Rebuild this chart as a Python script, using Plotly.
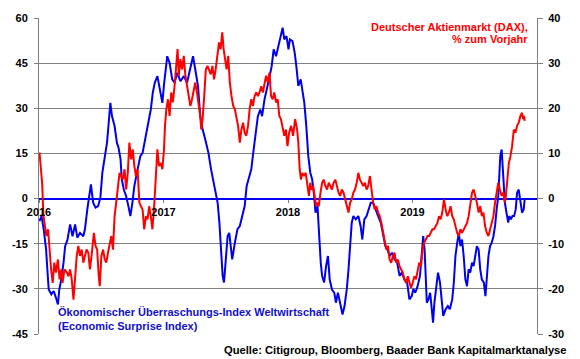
import plotly.graph_objects as go

# Citi Economic Surprise Index (left axis), decimal years
esi_t = [2016.004, 2016.020, 2016.038, 2016.057, 2016.067, 2016.078, 2016.099, 2016.118, 2016.136, 2016.152,
         2016.163, 2016.179, 2016.197, 2016.210, 2016.229, 2016.250, 2016.269, 2016.290, 2016.308, 2016.329,
         2016.356, 2016.369, 2016.388, 2016.403, 2016.417, 2016.435, 2016.454, 2016.475, 2016.493, 2016.509,
         2016.528, 2016.546, 2016.560, 2016.573, 2016.586, 2016.607, 2016.626, 2016.639, 2016.655, 2016.665,
         2016.681, 2016.700, 2016.718, 2016.734, 2016.750, 2016.766, 2016.792, 2016.814, 2016.832, 2016.858,
         2016.880, 2016.898, 2016.914, 2016.930, 2016.951, 2016.972, 2016.991, 2017.004,
         2017.030, 2017.049, 2017.070, 2017.089, 2017.110, 2017.136, 2017.163, 2017.189, 2017.216, 2017.237,
         2017.255, 2017.277, 2017.295, 2017.314, 2017.335, 2017.361, 2017.382, 2017.401, 2017.419, 2017.435,
         2017.449, 2017.462, 2017.475, 2017.486, 2017.499, 2017.515, 2017.528, 2017.541, 2017.552, 2017.573,
         2017.594, 2017.613, 2017.631, 2017.652, 2017.668, 2017.684, 2017.705, 2017.724, 2017.740, 2017.758,
         2017.777, 2017.792, 2017.811, 2017.832, 2017.853, 2017.869, 2017.885, 2017.904, 2017.922, 2017.943,
         2017.957, 2017.970, 2017.988, 2018.004,
         2018.015, 2018.036, 2018.054, 2018.067, 2018.083, 2018.102, 2018.115, 2018.131, 2018.147, 2018.163,
         2018.179, 2018.194, 2018.210, 2018.221, 2018.237, 2018.253, 2018.263, 2018.274, 2018.290, 2018.306,
         2018.321, 2018.335, 2018.353, 2018.372, 2018.385, 2018.401, 2018.419, 2018.438, 2018.454, 2018.472,
         2018.486, 2018.499, 2018.512, 2018.525, 2018.544, 2018.565, 2018.583, 2018.597, 2018.613, 2018.631,
         2018.650, 2018.665, 2018.684, 2018.702, 2018.724, 2018.745, 2018.763, 2018.782, 2018.798, 2018.816,
         2018.835, 2018.856, 2018.877, 2018.896, 2018.914, 2018.935, 2018.957, 2018.975, 2018.994,
         2019.007, 2019.022, 2019.041, 2019.060, 2019.075, 2019.086, 2019.097, 2019.107, 2019.115, 2019.128,
         2019.142, 2019.155, 2019.165, 2019.176, 2019.192, 2019.205, 2019.221, 2019.234, 2019.247, 2019.266,
         2019.284, 2019.300, 2019.319, 2019.332, 2019.345, 2019.359, 2019.372, 2019.385, 2019.398, 2019.411,
         2019.425, 2019.438, 2019.451, 2019.464, 2019.478, 2019.491, 2019.504, 2019.517, 2019.531, 2019.544,
         2019.557, 2019.573, 2019.586, 2019.599, 2019.610, 2019.623, 2019.636, 2019.650, 2019.663, 2019.676,
         2019.689, 2019.697, 2019.705, 2019.716, 2019.724, 2019.732, 2019.742, 2019.755, 2019.769, 2019.777,
         2019.790, 2019.803, 2019.816, 2019.829, 2019.840, 2019.853, 2019.867, 2019.880, 2019.893, 2019.901]
esi_v = [-7.5, -5.8, -10.2, -16.9, -23.5, -30.2, -31.8, -30.7, -32.9, -35.2,
         -30.2, -26.9, -21.3, -15.8, -13.6, -8.6, -12.5, -8.6, -13.0, -11.4,
         -12.5, -10.2, -3.6, 0.8, 4.7, -1.4, -3.0, -2.5, 0.3, 8.6,
         14.1, 18.5, 25.2, 31.8, 27.4, 24.1, 18.5, 16.9, 13.0, 6.4,
         3.0, 0.8, -2.5, -5.8, -1.4, 4.2, 9.7, 14.1, 15.2, 20.8,
         25.2, 29.6, 35.2, 38.5, 40.7, 36.3, 31.8, 37.9,
         47.3, 45.1, 39.6, 38.5, 41.8, 39.0, 40.7, 38.5, 42.9, 47.3,
         42.9, 37.4, 27.4, 23.0, 19.7, 15.2, 9.7, 5.3, 1.9, -1.4,
         -8.0, -16.9, -25.7, -27.9, -21.3, -12.5, -11.4, -15.8, -20.2, -14.7,
         -10.2, -9.1, -5.8, -2.5, 4.2, 6.4, 9.7, 16.3, 21.9, 27.4,
         29.6, 27.4, 32.9, 37.4, 40.7, 44.0, 49.6, 47.3, 50.7, 54.0,
         56.8, 52.9, 54.0, 49.6,
         52.9, 52.3, 48.4, 44.0, 37.4, 39.6, 35.2, 31.8, 24.1, 14.1,
         8.6, 6.4, 0.8, -4.7, -2.5, -14.7, -21.3, -25.7, -27.9, -22.4,
         -19.1, -26.9, -30.2, -31.3, -34.6, -31.3, -34.6, -38.5, -35.7, -30.2,
         -23.5, -15.8, -8.0, -5.8, -6.9, -5.8, -9.1, -13.6, -6.9, -5.8,
         -3.6, -1.4, -1.4, -3.6, -5.8, -8.0, -11.4, -15.8, -16.9, -19.1,
         -18.0, -20.2, -21.3, -25.7, -24.6, -26.9, -27.9, -33.5, -32.4,
         -30.0, -31.3, -29.1, -25.7, -19.1, -12.5, -16.9, -26.9, -34.6, -33.5,
         -31.3, -36.8, -41.2, -34.6, -29.1, -24.6, -27.9, -34.6, -39.0, -36.8,
         -35.7, -36.8, -33.5, -27.9, -19.1, -14.7, -11.4, -15.8, -13.6, -19.1,
         -26.9, -29.1, -23.5, -24.6, -21.3, -22.4, -19.1, -15.8, -16.9, -23.5,
         -26.9, -27.9, -32.4, -23.5, -19.1, -15.8, -14.7, -12.5, -9.1, -3.6,
         0.8, 7.5, 14.1, 16.3, 10.8, 3.0, -1.4, -4.7, -8.0, -5.8,
         -6.9, -5.8, -5.8, -3.6, 1.9, 3.0, -1.4, -4.7, -3.6, -0.3]

# DAX, % year on year (right axis), decimal years
dax_t = [2016.004, 2016.012, 2016.025, 2016.036, 2016.046, 2016.060, 2016.073, 2016.083, 2016.097, 2016.110,
         2016.123, 2016.136, 2016.152, 2016.165, 2016.179, 2016.189, 2016.205, 2016.224, 2016.237, 2016.250,
         2016.263, 2016.277, 2016.290, 2016.303, 2016.316, 2016.329, 2016.343, 2016.356, 2016.369, 2016.382,
         2016.396, 2016.409, 2016.422, 2016.441, 2016.454, 2016.467, 2016.480, 2016.488, 2016.501, 2016.515,
         2016.528, 2016.541, 2016.554, 2016.568, 2016.581, 2016.594, 2016.607, 2016.620, 2016.634, 2016.647,
         2016.660, 2016.673, 2016.687, 2016.700, 2016.713, 2016.726, 2016.740, 2016.753, 2016.766, 2016.779,
         2016.792, 2016.806, 2016.819, 2016.832, 2016.845, 2016.859, 2016.872, 2016.885, 2016.898, 2016.911,
         2016.925, 2016.938, 2016.951, 2016.964, 2016.978, 2016.991, 2017.004,
         2017.012, 2017.023, 2017.036, 2017.049, 2017.062, 2017.075, 2017.089, 2017.102, 2017.113, 2017.123,
         2017.136, 2017.150, 2017.163, 2017.176, 2017.189, 2017.202, 2017.216, 2017.229, 2017.242, 2017.255,
         2017.269, 2017.282, 2017.295, 2017.303, 2017.314, 2017.327, 2017.340, 2017.353, 2017.367, 2017.380,
         2017.393, 2017.406, 2017.419, 2017.433, 2017.446, 2017.459, 2017.472, 2017.483, 2017.494, 2017.507,
         2017.520, 2017.533, 2017.546, 2017.560, 2017.573, 2017.586, 2017.599, 2017.613, 2017.626, 2017.639,
         2017.652, 2017.665, 2017.679, 2017.692, 2017.705, 2017.718, 2017.732, 2017.745, 2017.758, 2017.771,
         2017.785, 2017.798, 2017.811, 2017.824, 2017.838, 2017.851, 2017.864, 2017.877, 2017.890, 2017.904,
         2017.917, 2017.930, 2017.943, 2017.957, 2017.970, 2017.983, 2017.996,
         2018.009, 2018.025, 2018.041, 2018.057, 2018.073, 2018.083, 2018.094, 2018.104, 2018.115, 2018.128,
         2018.142, 2018.155, 2018.168, 2018.179, 2018.189, 2018.202, 2018.216, 2018.226, 2018.237, 2018.247,
         2018.261, 2018.274, 2018.287, 2018.300, 2018.314, 2018.327, 2018.340, 2018.353, 2018.366, 2018.380,
         2018.393, 2018.406, 2018.419, 2018.433, 2018.446, 2018.459, 2018.472, 2018.486, 2018.499, 2018.512,
         2018.525, 2018.538, 2018.552, 2018.565, 2018.578, 2018.591, 2018.605, 2018.618, 2018.631, 2018.644,
         2018.658, 2018.671, 2018.684, 2018.697, 2018.710, 2018.724, 2018.737, 2018.750, 2018.763, 2018.777,
         2018.790, 2018.803, 2018.816, 2018.829, 2018.843, 2018.856, 2018.869, 2018.882, 2018.896, 2018.909,
         2018.922, 2018.935, 2018.949, 2018.962, 2018.975, 2018.988,
         2019.001, 2019.015, 2019.028, 2019.041, 2019.054, 2019.068, 2019.081, 2019.094, 2019.107, 2019.120,
         2019.134, 2019.147, 2019.160, 2019.173, 2019.187, 2019.200, 2019.213, 2019.226, 2019.239, 2019.253,
         2019.266, 2019.279, 2019.292, 2019.306, 2019.319, 2019.332, 2019.345, 2019.359, 2019.372, 2019.385,
         2019.398, 2019.411, 2019.425, 2019.438, 2019.451, 2019.464, 2019.478, 2019.491, 2019.504, 2019.517,
         2019.531, 2019.544, 2019.557, 2019.570, 2019.583, 2019.597, 2019.610, 2019.623, 2019.636, 2019.650,
         2019.663, 2019.676, 2019.689, 2019.702, 2019.716, 2019.729, 2019.742, 2019.750, 2019.761, 2019.774,
         2019.787, 2019.800, 2019.814, 2019.827, 2019.840, 2019.853, 2019.867, 2019.880, 2019.888, 2019.896,
         2019.901]
dax_v = [10.2, 7.9, 3.5, -3.9, -5.4, -8.3, -6.8, -11.3, -15.7, -18.7,
         -14.2, -16.4, -13.5, -17.9, -15.7, -18.7, -15.7, -16.4, -17.2, -15.7,
         -17.9, -22.4, -17.2, -12.7, -10.5, -12.7, -11.3, -14.2, -12.7, -11.3,
         -12.0, -15.7, -12.7, -7.6, -10.5, -11.3, -17.2, -19.4, -12.7, -11.3,
         -13.5, -14.2, -12.0, -9.8, -8.3, -11.3, -3.9, -0.9, 2.0, 5.7,
         5.0, 4.2, 6.5, 2.0, 5.7, 12.4, 8.7, 10.9, 7.2, 5.0,
         6.5, -0.9, -1.7, -2.4, -6.8, -3.9, -4.6, -1.7, -3.9, -6.8,
         -1.7, 5.0, 10.9, 7.2, 7.9, 6.5, 10.9,
         16.1, 19.8, 22.0, 18.3, 23.5, 21.3, 24.9, 28.6, 33.1, 27.2,
         30.9, 28.6, 31.6, 27.2, 24.9, 22.0, 20.5, 22.0, 23.5, 25.7,
         23.5, 21.3, 18.3, 15.3, 17.6, 22.7, 28.6, 29.4, 28.6, 27.5,
         29.4, 26.4, 28.6, 31.6, 34.6, 33.1, 36.8, 33.1, 30.9, 28.6,
         31.6, 25.7, 22.7, 20.5, 19.8, 18.3, 16.1, 12.4, 15.3, 16.8,
         14.6, 13.9, 16.1, 19.8, 22.0, 20.5, 22.7, 23.5, 22.7, 23.5,
         24.9, 23.5, 25.7, 27.2, 25.7, 27.9, 22.7, 22.0, 23.5, 21.3,
         22.0, 18.3, 17.6, 15.3, 13.9, 15.3, 11.6,
         14.6, 16.1, 13.9, 17.6, 15.3, 12.4, 6.5, 4.2, 5.7, 5.0,
         5.7, 3.5, 0.6, 3.5, 2.0, 2.8, 0.6, -1.7, -0.9, -1.7,
         1.3, 3.5, 4.2, 2.8, 2.0, 3.5, 2.8, 2.0, 3.5, 4.2,
         2.8, 1.3, 0.6, 2.0, 1.3, -0.2, -1.7, -3.1, -0.9, -0.2,
         1.3, 2.0, 3.5, 5.7, 4.2, 3.5, 2.8, 3.5, 2.0, 2.8,
         5.0, 2.0, -0.9, -2.4, -1.7, -3.1, -3.9, -5.4, -7.6, -9.8,
         -11.3, -10.5, -13.5, -14.2, -12.7, -12.0, -14.2, -13.5, -15.0, -15.7,
         -16.4, -17.9, -18.7, -17.2, -18.7, -19.8,
         -18.7, -17.2, -17.9, -16.4, -14.2, -15.0, -11.3, -9.8, -9.1, -8.3,
         -8.3, -7.6, -6.8, -6.8, -6.1, -5.4, -3.9, -4.6, -3.1, -0.2,
         -2.4, -3.9, -3.1, -1.7, -3.9, -4.6, -6.1, -7.6, -8.3, -6.8,
         -7.6, -6.8, -6.1, -5.4, -3.9, -1.7, 1.3, 2.0, 0.6, -0.9,
         -3.1, -1.7, -3.9, -3.1, -6.1, -7.6, -8.3, -6.8, -5.4, -3.9,
         -0.9, 1.3, 3.5, 2.0, 0.6, 1.3, -0.9, 0.6, 5.0, 7.9,
         9.4, 11.6, 15.3, 14.6, 16.1, 16.8, 18.3, 19.0, 17.6, 18.3,
         17.2]

year_ticks = [2016, 2017, 2018, 2019]
year_labels = ["2016", "2017", "2018", "2019"]
left_ticks = [-45, -30, -15, 0, 15, 30, 45, 60]
left_labels = ["-45", "-30", "-15", "0", "15", "30", "45", "60"]
right_ticks = [-30, -20, -10, 0, 10, 20, 30, 40]
right_labels = ["-30", "-20", "-10", "0", "10", "20", "30", "40"]

BLUE = "#0000EE"
RED = "#FF0000"
GRID = "#808080"
FONT = "Liberation Sans, Arial, sans-serif"

fig = go.Figure()
fig.add_trace(go.Scatter(x=esi_t, y=esi_v, mode="lines", yaxis="y",
                         line=dict(color=BLUE, width=2), hoverinfo="skip"))
fig.add_trace(go.Scatter(x=dax_t, y=dax_v, mode="lines", yaxis="y2",
                         line=dict(color=RED, width=2), hoverinfo="skip"))

tickfont = dict(family=FONT, size=11, color="black", weight="bold")

fig.update_layout(
    width=580, height=359,
    margin=dict(l=33, r=43, t=16, b=25),
    plot_bgcolor="white", paper_bgcolor="white",
    showlegend=False,
    font=dict(family=FONT),
    xaxis=dict(range=[2016, 2020], tickvals=year_ticks, ticktext=year_labels,
               anchor="free", position=45 / 105, showgrid=False, zeroline=False,
               showline=False, ticks="outside", ticklen=3, tickcolor=GRID,
               tickfont=tickfont),
    yaxis=dict(range=[-45, 60], tickvals=left_ticks, ticktext=left_labels,
               showgrid=True, gridcolor=GRID, gridwidth=1,
               showline=True, linecolor=GRID, linewidth=1,
               ticks="outside", ticklen=4, tickcolor=GRID, ticklabelstandoff=4,
               zeroline=True, zerolinecolor=BLUE, zerolinewidth=2,
               tickfont=tickfont),
    yaxis2=dict(range=[-30, 40], tickvals=right_ticks, ticktext=right_labels,
                overlaying="y", side="right", showgrid=False, zeroline=False,
                showline=True, linecolor=GRID, linewidth=1,
                ticks="outside", ticklen=5, tickcolor=GRID, ticklabelstandoff=3,
                tickfont=tickfont),
)

ann_font_red = dict(family=FONT, size=11, color=RED, weight="bold")
ann_font_blue = dict(family=FONT, size=11, color="#1010CC", weight="bold")
fig.add_annotation(text="Deutscher Aktienmarkt (DAX),", xref="paper", yref="paper",
                   x=(530 - 33) / 504, y=(334 - 25) / 318, xanchor="right", yanchor="middle",
                   showarrow=False, font=ann_font_red)
fig.add_annotation(text="% zum Vorjahr", xref="paper", yref="paper",
                   x=(530 - 33) / 504, y=(334 - 37.5) / 318, xanchor="right", yanchor="middle",
                   showarrow=False, font=ann_font_red)
fig.add_annotation(text="Ökonomischer Überraschungs-Index Weltwirtschaft", xref="paper", yref="paper",
                   x=(50 - 33) / 504, y=(334 - 311.7) / 318, xanchor="left", yanchor="middle",
                   showarrow=False, font=ann_font_blue)
fig.add_annotation(text="(Economic Surprise Index)", xref="paper", yref="paper",
                   x=(50 - 33) / 504, y=(334 - 326) / 318, xanchor="left", yanchor="middle",
                   showarrow=False, font=ann_font_blue)
fig.add_annotation(text="Quelle: Citigroup, Bloomberg, Baader Bank Kapitalmarktanalyse",
                   xref="paper", yref="paper",
                   x=(569 - 33) / 504, y=(334 - 350) / 318, xanchor="right", yanchor="middle",
                   showarrow=False, font=dict(family=FONT, size=11.2, color="black", weight="bold"))

fig.write_html("out.html", config={"displayModeBar": False},
               post_script="document.body.style.margin='0';document.body.style.overflow='hidden';")
